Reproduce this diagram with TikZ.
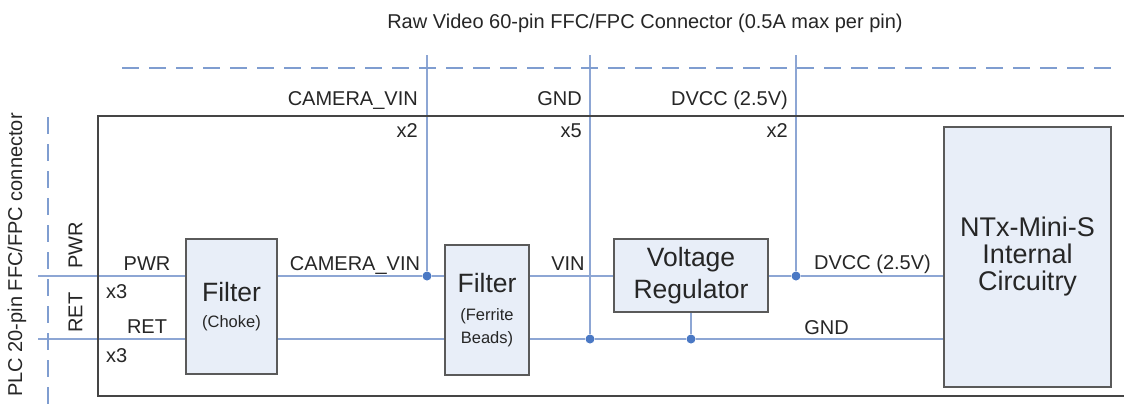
\documentclass[tikz,border=0pt]{standalone}
\usepackage{fontspec}
\setmainfont{Liberation Sans}
\definecolor{wirec}{HTML}{8DA6D4}
\definecolor{dashc}{HTML}{7F9DD0}
\definecolor{dotc}{HTML}{4A78C4}
\definecolor{boxfill}{HTML}{E8EEF8}
\definecolor{boxline}{HTML}{5A5A5A}
\definecolor{framec}{HTML}{454545}
\newcommand\flbl{\fontsize{20}{24}\selectfont}
\newcommand\fsm{\fontsize{16.5}{20}\selectfont}
\pgfdeclarelayer{wires}
\pgfsetlayers{wires,main}
\begin{document}
\begin{tikzpicture}[x=1pt,y=-1pt,
  wire/.style={draw=wirec,line width=2pt},
  dashline/.style={draw=dashc,line width=1.6pt,dash pattern=on 17pt off 10pt},
  blk/.style={draw=boxline,fill=boxfill,line width=1.6pt,inner sep=0pt,align=center,text=black!85},
  jdot/.style={circle,fill=dotc,inner sep=0pt,minimum size=9pt},
  lbl/.style={font=\flbl,inner sep=0pt,text=black!85}]
\clip (0,0) rectangle (1124,407);
\begin{pgfonlayer}{wires}
\fill[white] (0,0) rectangle (1124,407);
\end{pgfonlayer}
% enclosure
\node[draw=framec,line width=2pt,inner sep=0pt,minimum width=1040pt,minimum height=280pt] (encl) at (618,256) {};
% connector edges
\coordinate (dhL) at (122,68); \coordinate (dhR) at (1112,68);
\draw[dashline] (dhL) -- (dhR);
\coordinate (dvT) at (48,117); \coordinate (dvB) at (48,410);
\draw[dashline] (dvT) -- (dvB);
% blocks
\node[blk,minimum width=91pt,minimum height=135pt,font=\fontsize{26.5}{25.5}\selectfont] (choke) at (231.5,306.5) {Filter\\\fsm (Choke)};
\node[blk,minimum width=84pt,minimum height=130pt,font=\fontsize{26.5}{23}\selectfont] (ferr) at (487,310) {Filter\\[5.5pt]\fsm (Ferrite\\\fsm Beads)};
\node[blk,minimum width=154pt,minimum height=73pt,font=\fontsize{26.5}{32}\selectfont] (vr) at (691,275.5) {Voltage\\Regulator};
\node[blk,minimum width=167pt,minimum height=260pt,font=\fontsize{27}{27}\selectfont] (ntx) at (1027.5,257) {NTx-Mini-S\\Internal\\Circuitry};
% junctions
\node[jdot] (jcam) at (427,276) {};
\node[jdot] (jgnd) at (590,339) {};
\node[jdot] (jvr) at (691,339) {};
\node[jdot] (jdv) at (796,276) {};
% wire ends
\coordinate (pwrL) at (38,276);
\coordinate (retL) at (38,339);
\coordinate (tcam) at (427,55);
\coordinate (tgnd) at (590,55);
\coordinate (tdv) at (796,55);
% wires (behind blocks and dots)
\begin{pgfonlayer}{wires}
\draw[wire] (pwrL) -- (pwrL -| choke.west);
\draw[wire] (retL) -- (retL -| choke.west);
\draw[wire] (choke.east |- pwrL) -- (jcam) -- (jcam -| ferr.west);
\draw[wire] (choke.east |- retL) -- (ferr.west |- retL);
\draw[wire] (ferr.east |- pwrL) -- (vr.west |- pwrL);
\draw[wire] (ferr.east |- retL) -- (jgnd) -- (jvr) -- (jvr -| ntx.west);
\draw[wire] (vr.east |- pwrL) -- (jdv) -- (jdv -| ntx.west);
\draw[wire] (vr.south) -- (jvr);
\draw[wire] (tcam) -- (jcam);
\draw[wire] (tgnd) -- (jgnd);
\draw[wire] (tdv) -- (jdv);
\end{pgfonlayer}
% labels
\node[lbl,anchor=base] (title) at (645,28) {Raw Video 60-pin FFC/FPC Connector (0.5A max per pin)};
\node[lbl,rotate=90] (plc) at (17,255) {PLC 20-pin FFC/FPC connector};
\node[lbl,rotate=90] (rpwr) at (75.5,245.5) {PWR};
\node[lbl,rotate=90] (rret) at (75.5,312.5) {RET};
\node[lbl,anchor=base east] (lcamt) at (418,105) {CAMERA\_VIN};
\node[lbl,anchor=base east] (lx2a) at (418,137) {x2};
\node[lbl,anchor=base east] (lgndt) at (582,105) {GND};
\node[lbl,anchor=base east] (lx5) at (582,137) {x5};
\node[lbl,anchor=base east] (ldvt) at (788,105) {DVCC (2.5V)};
\node[lbl,anchor=base east] (lx2b) at (788,137) {x2};
\node[lbl,anchor=base] (lpwr) at (147,270) {PWR};
\node[lbl,anchor=base west] (lx3a) at (106,298) {x3};
\node[lbl,anchor=base] (lret) at (147,333) {RET};
\node[lbl,anchor=base west] (lx3b) at (106,362) {x3};
\node[lbl,anchor=base] (lcam) at (355,270) {CAMERA\_VIN};
\node[lbl,anchor=base] (lvin) at (568,270) {VIN};
\node[lbl,anchor=base] (ldv) at (872.5,269) {DVCC (2.5V)};
\node[lbl,anchor=base] (lgnd) at (826.5,334) {GND};
\end{tikzpicture}
\end{document}
